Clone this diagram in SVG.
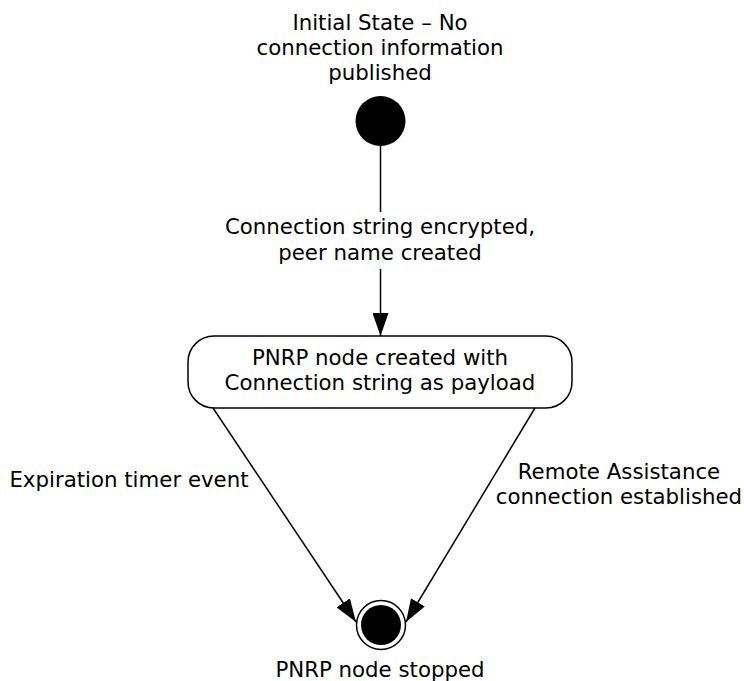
<svg xmlns="http://www.w3.org/2000/svg" width="744" height="681" viewBox="0 0 744 681">
<defs>
<style>
text{font-family:"DejaVu Sans",Verdana,sans-serif;font-size:21.3px;fill:#000;text-anchor:middle}
.ln{stroke:#000;stroke-width:1.5;fill:none}
</style>
<marker id="ah" markerWidth="24" markerHeight="16" refX="23" refY="8" orient="auto" markerUnits="userSpaceOnUse">
<path d="M0,0 L23,8 L0,16 Z" fill="#000"/>
</marker>
</defs>
<rect width="744" height="681" fill="#fff"/>
<g id="initial">
<text x="380" y="30">Initial State – No</text>
<text x="380" y="55">connection information</text>
<text x="380" y="80">published</text>
<circle cx="380.5" cy="121" r="25" fill="#000"/>
</g>
<g id="pnrp-created">
<rect x="188" y="336" width="384" height="72" rx="26" ry="26" fill="#fff" stroke="#000" stroke-width="1.5"/>
<text x="380" y="365">PNRP node created with</text>
<text x="380" y="390">Connection string as payload</text>
</g>
<g id="final">
<circle cx="381" cy="625" r="24.5" fill="#fff" stroke="#000" stroke-width="1.5"/>
<circle cx="381" cy="625" r="20" fill="#000"/>
<text x="380" y="677">PNRP node stopped</text>
</g>
<g id="connectors">
<line class="ln" x1="380.5" y1="146" x2="380.5" y2="212"/>
<line class="ln" x1="380.5" y1="269" x2="380.5" y2="336" marker-end="url(#ah)"/>
<text x="380" y="234">Connection string encrypted,</text>
<text x="380" y="260">peer name created</text>
<line class="ln" x1="213" y1="408" x2="356" y2="622" marker-end="url(#ah)"/>
<text x="129" y="487">Expiration timer event</text>
<line class="ln" x1="535" y1="408" x2="406" y2="622" marker-end="url(#ah)"/>
<text x="619" y="479">Remote Assistance</text>
<text x="619" y="504">connection established</text>
</g>
</svg>
